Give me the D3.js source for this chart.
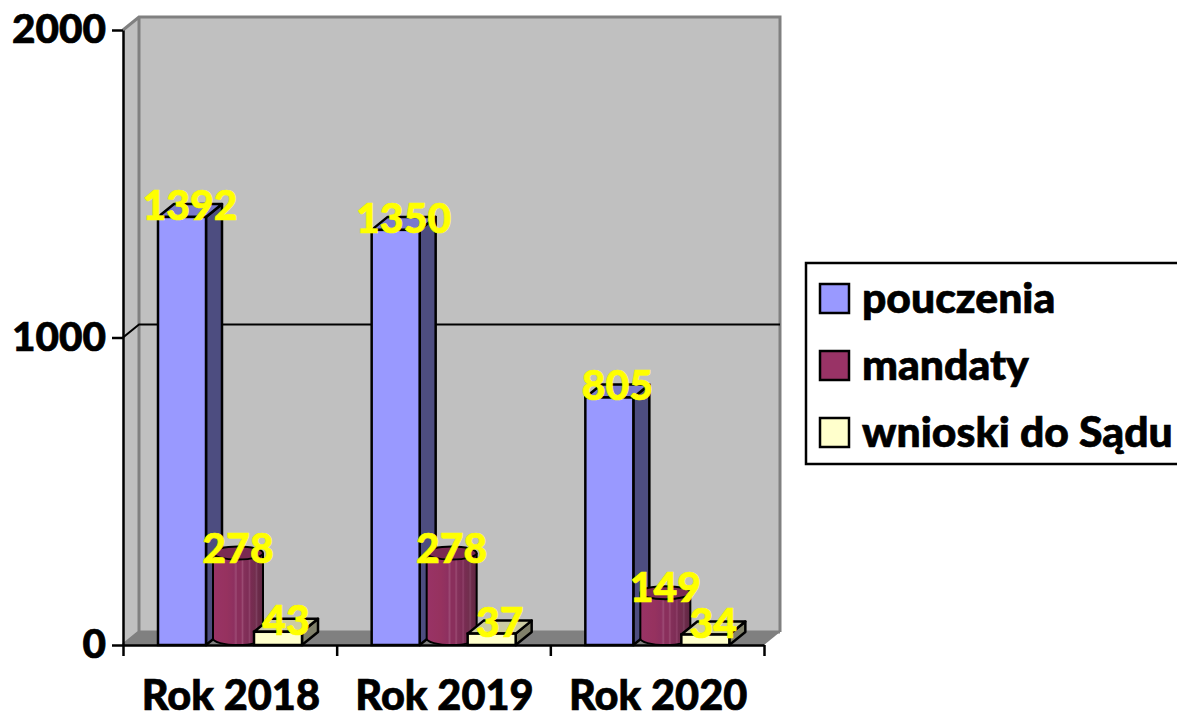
<!DOCTYPE html>
<html><head><meta charset="utf-8">
<script src="https://cdn.jsdelivr.net/npm/d3@7/dist/d3.min.js"></script>
<style>html,body{margin:0;padding:0;background:#fff;overflow:hidden}svg{display:block}text{font-family:Lato,"Noto Sans",sans-serif;font-weight:900;stroke-width:.7px}</style>
</head><body><svg id="c" width="1177" height="713"></svg>
<script>
const categories = ["Rok 2018","Rok 2019","Rok 2020"];
const seriesNames = ["pouczenia","mandaty","wnioski do Sądu"];
const pouczenia = [1392,1350,805];
const mandaty = [278,278,149];
const wnioski = [43,37,34];
const yTicks = [0,1000,2000];

const svg = d3.select("#c");
const dx = 16, dy = 13;
const y = d3.scaleLinear().domain([0,2000]).range([645,30]);
const xIdx = d3.scaleLinear().domain([0,3]).range([123,764]);
const x = d3.scaleBand().domain(categories).range([123,764]);
const num = i => x(categories[i]);
const poly = (pts,fill,stroke,w) => svg.append("polygon").attr("points",pts.map(p=>p.join(",")).join(" "))
  .attr("fill",fill).attr("stroke",stroke||"none").attr("stroke-width",w||0).attr("stroke-linejoin","round");

const defs = svg.append("defs");
const g = defs.append("linearGradient").attr("id","cyl");
[[0,"#993366"],[.28,"#96325f"],[.42,"#8e3060"],[.46,"#9c4a74"],[.49,"#8a2f5c"],[.56,"#8a2f5c"],[.59,"#9a4a72"],[.62,"#84305a"],[.7,"#7e2d56"],[.73,"#8e4068"],[.76,"#782c52"],[.84,"#722e4e"],[.87,"#7e4060"],[.9,"#6c2b4a"],[1,"#5e2742"]]
  .forEach(s=>g.append("stop").attr("offset",s[0]).attr("stop-color",s[1]));

const x0=xIdx(0), x1=xIdx(3), yB=y(0), yT=y(2000);
poly([[x0,yB],[x0+dx,yB-dy],[x0+dx,yT-dy],[x0,yT]],"#c0c0c0");
poly([[x0+dx,yB-dy],[x1+dx,yB-dy],[x1+dx,yT-dy],[x0+dx,yT-dy]],"#c0c0c0");
poly([[x0,yB],[x0+dx,yB-dy],[x1+dx,yB-dy],[x1,yB]],"#808080");
svg.append("path").attr("fill","none").attr("stroke","#808080").attr("stroke-width",3)
  .attr("d",`M${x0},${yT}L${x0+dx},${yT-dy}L${x1+dx},${yT-dy}L${x1+dx},${yB-dy}M${x0+dx},${yT-dy}L${x0+dx},${yB-dy}L${x1+dx},${yB-dy}M${x0},${yB}L${x0+dx},${yB-dy}`);
svg.append("path").attr("fill","none").attr("stroke","#000").attr("stroke-width",2)
  .attr("d",`M${x0},${y(1000)}L${x0+dx},${y(1000)-dy}L${x1+dx},${y(1000)-dy}`);

function box(bx,w,v,front,side,top){
  const t=y(v), b=y(0);
  poly([[bx+w,t],[bx+w+dx,t-dy],[bx+w+dx,b-dy],[bx+w,b]],side,"#000",2.5);
  poly([[bx,t],[bx+dx,t-dy],[bx+w+dx,t-dy],[bx+w,t]],top,"#000",2.5);
  svg.append("rect").attr("x",bx).attr("y",t).attr("width",w).attr("height",b-t)
    .attr("fill",front).attr("stroke","#000").attr("stroke-width",2.5);
}
function cyl(bx,w,v){
  const rx=w/2, ry=6.5, cx=bx+rx, t=y(v)-ry, b=y(0)-ry;
  svg.append("path").attr("fill","url(#cyl)").attr("stroke","#000").attr("stroke-width",2)
    .attr("d",`M${bx},${t}L${bx},${b}A${rx},${ry} 0 0 0 ${bx+w},${b}L${bx+w},${t}`);
  svg.append("ellipse").attr("cx",cx).attr("cy",t).attr("rx",rx).attr("ry",ry)
    .attr("fill","#7a2a52").attr("stroke","#000").attr("stroke-width",2);
}
const bOff=[35,90,131], bW=[48,50,48];
categories.forEach((c,i)=>{
  const gx=num(i);
  box(gx+bOff[0],bW[0],pouczenia[i],"#9999ff","#4d4d80","#7a7acc");
  cyl(gx+bOff[1],bW[1],mandaty[i]);
  box(gx+bOff[2],bW[2],wnioski[i],"#ffffcc","#80806a","#cccca3");
});

const yAxis = d3.axisLeft(y).tickValues(yTicks).tickSize(11).tickSizeOuter(0).tickPadding(6).tickFormat(d3.format("d"));
const ya = svg.append("g").attr("transform",`translate(${x0},0)`).call(yAxis);
const xAxis = d3.axisBottom(xIdx).tickValues([0,1,2,3]).tickSize(11).tickSizeOuter(0).tickFormat("");
const xa = svg.append("g").attr("transform",`translate(0,${yB})`).call(xAxis);
[ya,xa].forEach(a=>{a.selectAll("path,line").attr("stroke","#000").attr("stroke-width",2.5);});
ya.selectAll("text").attr("fill","#000").attr("stroke","#000").style("font-size","40.5px").style("font-family","Lato").style("font-weight",900);
svg.selectAll(".cat").data(categories).join("text").attr("class","cat")
  .attr("x",d=>x(d)+x.bandwidth()/2+1).attr("y",710).attr("text-anchor","middle").attr("fill","#000").attr("stroke","#000").style("font-size","41.5px").text(d=>d);

function lab(bx,w,v,extra){
  svg.append("text").attr("x",bx+w/2+extra).attr("y",y(v)+3).attr("text-anchor","middle")
    .attr("fill","#ffff00").attr("stroke","#ffff00").style("font-size","41px").text(v);
}
categories.forEach((c,i)=>{
  const gx=num(i);
  lab(gx+bOff[0],bW[0],pouczenia[i],8);
  lab(gx+bOff[1],bW[1],mandaty[i],0);
  lab(gx+bOff[2],bW[2],wnioski[i],8);
});

svg.append("rect").attr("x",806).attr("y",263).attr("width",400).attr("height",201).attr("fill","#fff").attr("stroke","#000").attr("stroke-width",2.5);
const legColors=["#9999ff","#993366","#ffffcc"];
const ly=d3.scalePoint().domain(seriesNames).range([298.5,432.5]);
seriesNames.forEach((n,i)=>{
  svg.append("rect").attr("x",820).attr("y",ly(n)-14.5).attr("width",29).attr("height",29)
    .attr("fill",legColors[i]).attr("stroke","#000").attr("stroke-width",2.5);
  svg.append("text").attr("x",862).attr("y",ly(n)+14).attr("fill","#000").attr("stroke","#000").style("font-size","42.7px").text(n);
});
</script></body></html>
